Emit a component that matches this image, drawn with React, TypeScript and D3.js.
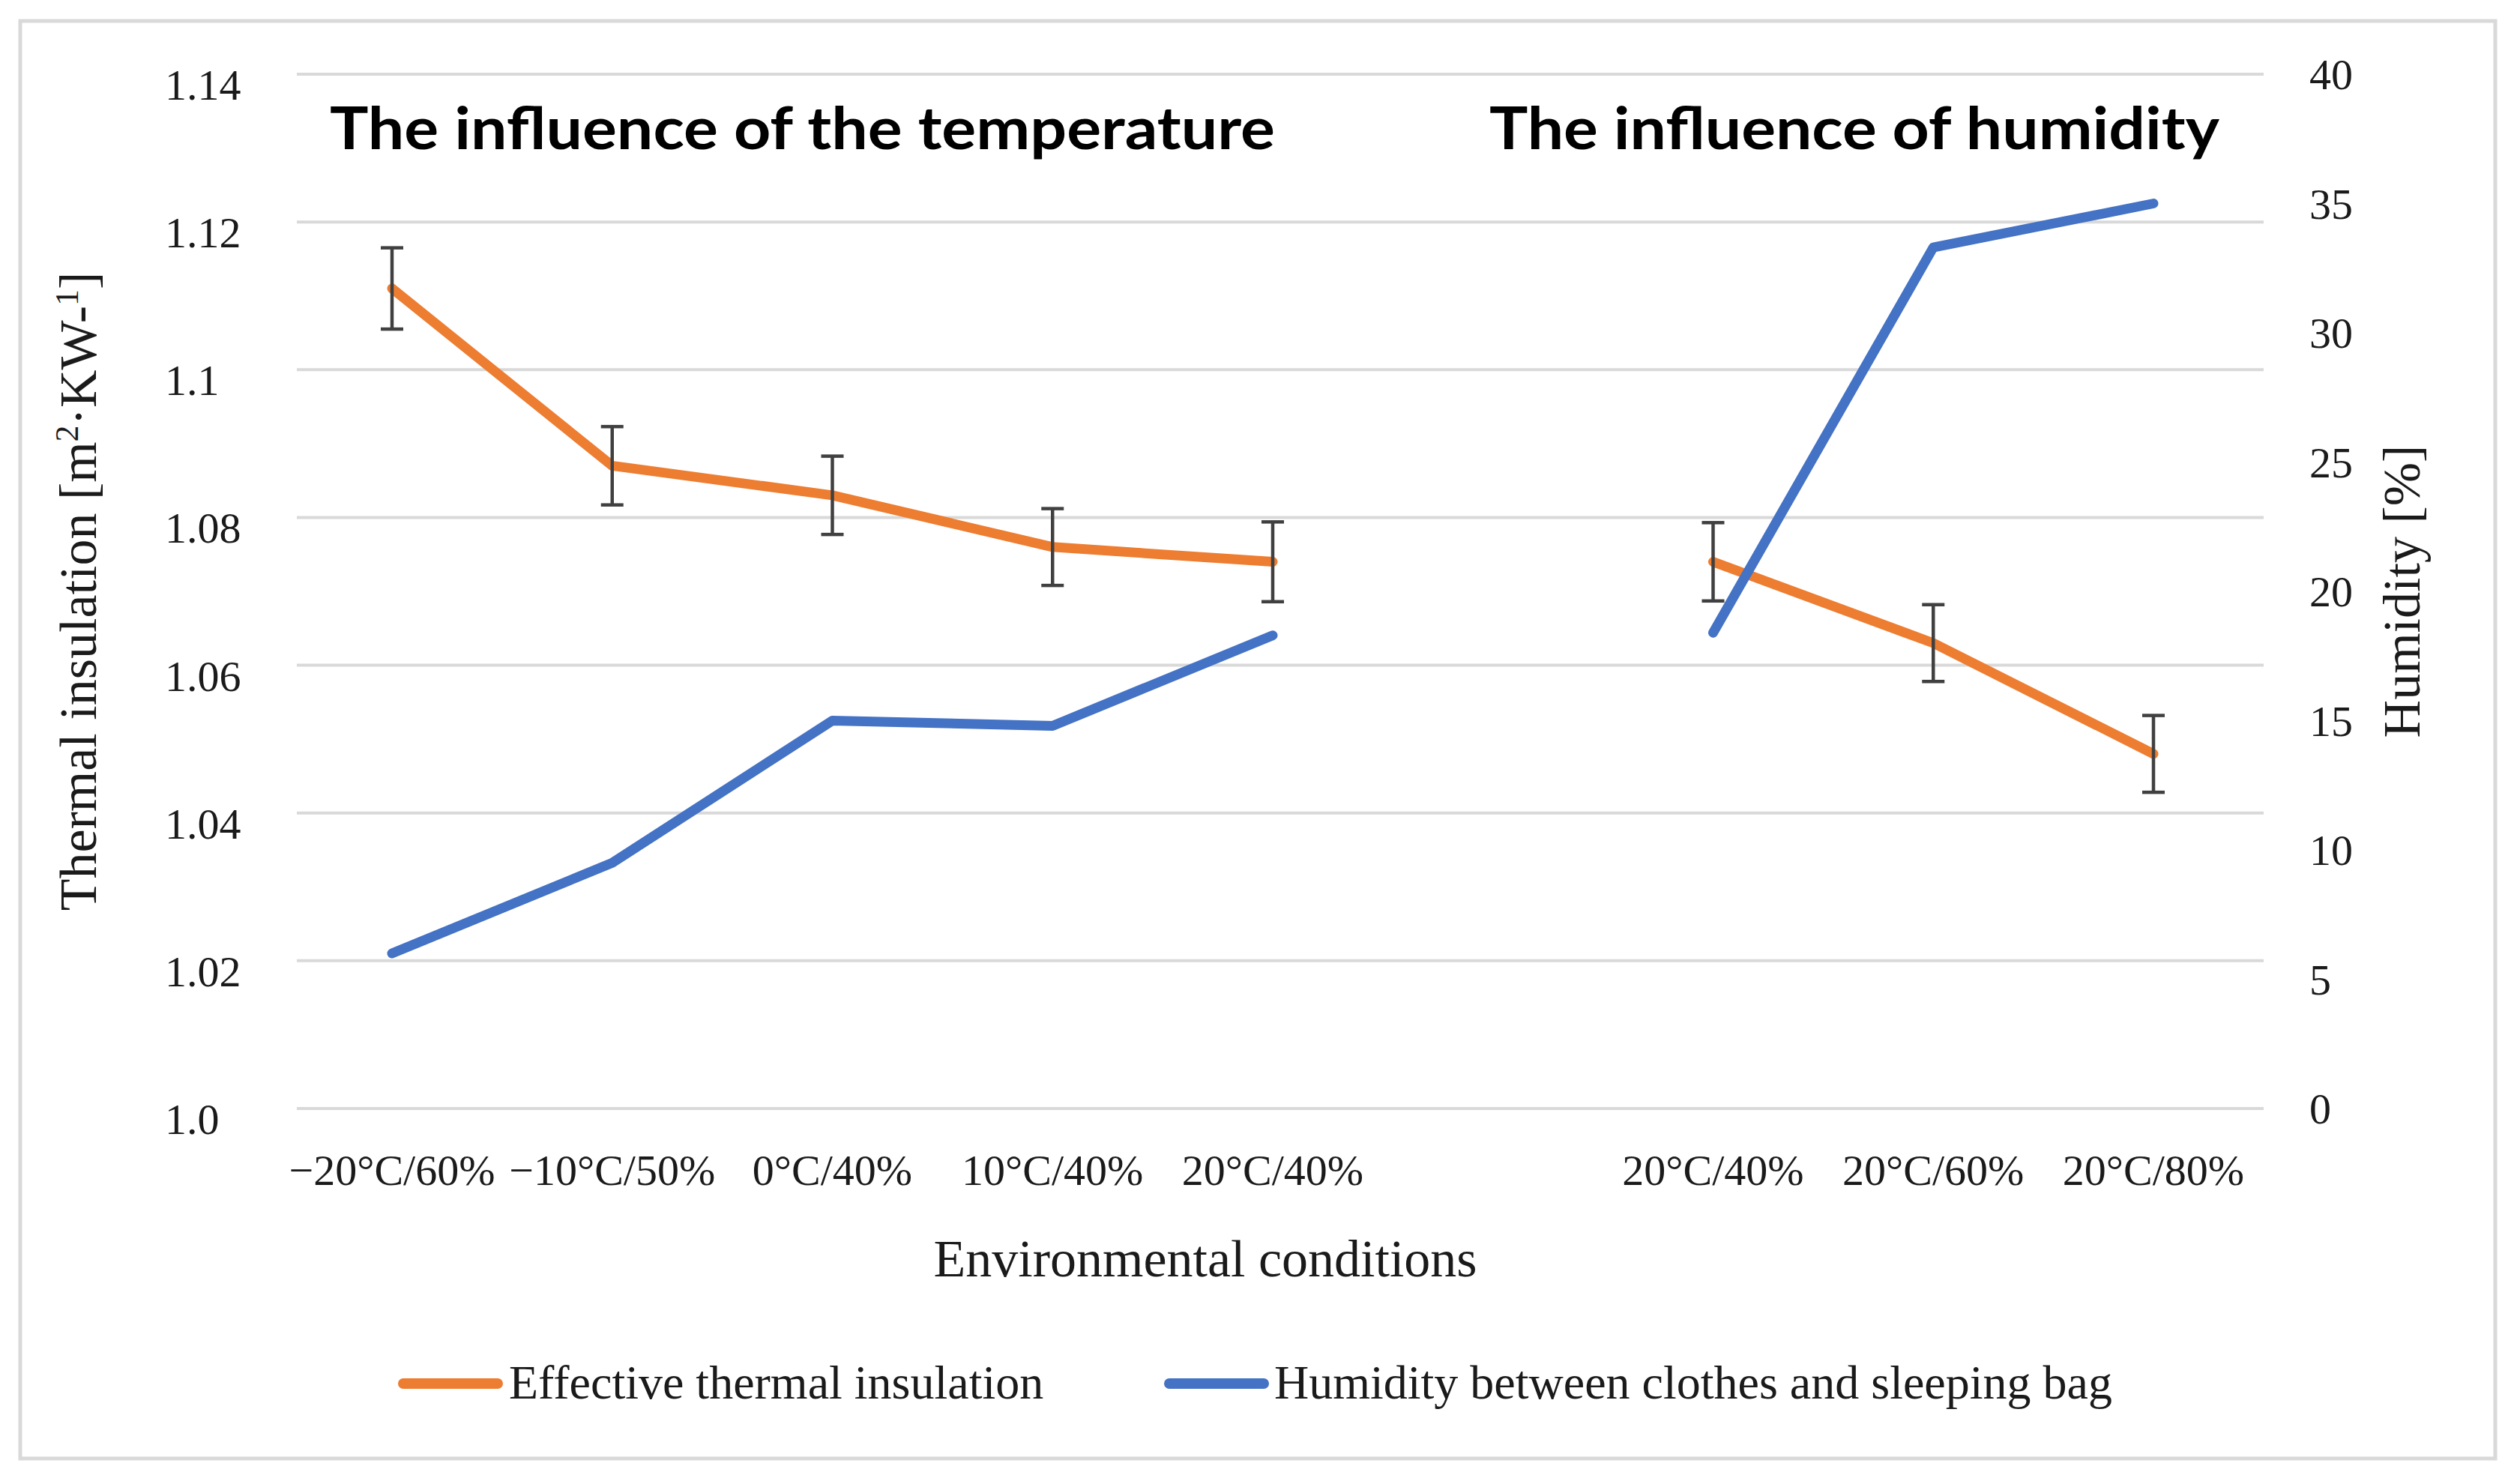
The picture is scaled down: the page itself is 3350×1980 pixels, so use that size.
import React, { useEffect, useRef } from 'react';
import * as d3 from 'd3';

// categories (index 5 is the empty slot between the two groups)
const categories = ['−20°C/60%', '−10°C/50%', '0°C/40%', '10°C/40%', '20°C/40%', '', '20°C/40%', '20°C/60%', '20°C/80%'];
const insulation = [1.111, 1.087, 1.083, 1.076, 1.074, null, 1.074, 1.063, 1.048];
const insulationErr = [0.0055, 0.0053, 0.0053, 0.0052, 0.0054, null, 0.0053, 0.0052, 0.0052];
const humidity = [6.0, 9.5, 15.0, 14.8, 18.3, null, 18.4, 33.3, 35.0];

const leftTicks = [1.0, 1.02, 1.04, 1.06, 1.08, 1.1, 1.12, 1.14];
const leftTickLabels = ['1.0', '1.02', '1.04', '1.06', '1.08', '1.1', '1.12', '1.14'];
const rightTicks = [0, 5, 10, 15, 20, 25, 30, 35, 40];

const groupTitles = ['The influence of the temperature', 'The influence of humidity'];
const seriesNames = ['Effective thermal insulation', 'Humidity between clothes and sleeping bag'];
const xTitle = 'Environmental conditions';
const rightTitle = 'Humidity [%]';

const ORANGE = '#ED7D31';
const BLUE = '#4472C4';
const SERIF = '"Liberation Serif", "Times New Roman", serif';

const App = () => {
  const ref = useRef(null);

  useEffect(() => {
    if (!ref.current) return;
    const svg = d3.select(ref.current);
    svg.selectAll('*').remove();

    const gridLeft = 396, gridRight = 3020;
    const idx = categories.map((_, i) => i);
    const x = d3.scalePoint<number>().domain(idx).range([523, 2873]);
    const yL = d3.scaleLinear().domain([1.0, 1.14]).range([1479, 99]);
    const yR = d3.scaleLinear().domain([0, 40]).range([1479, 99]);

    svg.append('rect')
      .attr('width', 3350).attr('height', 1980).attr('fill', '#fff');

    // outer chart border
    svg.append('rect')
      .attr('x', 27).attr('y', 28).attr('width', 3302).attr('height', 1918)
      .attr('fill', 'none').attr('stroke', '#d9d9d9').attr('stroke-width', 5);

    // gridlines
    svg.append('g').selectAll('line')
      .data(leftTicks).enter().append('line')
      .attr('x1', gridLeft).attr('x2', gridRight)
      .attr('y1', d => yL(d)).attr('y2', d => yL(d))
      .attr('stroke', '#d9d9d9').attr('stroke-width', 4);

    // left tick labels
    svg.append('g').selectAll('text')
      .data(leftTicks).enter().append('text')
      .attr('x', 220).attr('y', d => yL(d) + 34)
      .attr('font-family', SERIF).attr('font-size', 58).attr('fill', '#1a1a1a')
      .text((d, i) => leftTickLabels[i]);

    // right tick labels
    svg.append('g').selectAll('text')
      .data(rightTicks).enter().append('text')
      .attr('x', 3081).attr('y', d => yR(d) + 20)
      .attr('font-family', SERIF).attr('font-size', 58).attr('fill', '#1a1a1a')
      .text(d => d);

    // category labels
    svg.append('g').selectAll('text')
      .data(idx.filter(i => categories[i] !== '')).enter().append('text')
      .attr('x', d => x(d)).attr('y', 1581)
      .attr('text-anchor', 'middle')
      .attr('font-family', SERIF).attr('font-size', 58).attr('fill', '#1a1a1a')
      .text(d => categories[d]);

    // axis titles
    svg.append('text')
      .attr('x', 1608).attr('y', 1703).attr('text-anchor', 'middle')
      .attr('font-family', SERIF).attr('font-size', 70).attr('fill', '#1a1a1a')
      .text(xTitle);

    const lt = svg.append('text')
      .attr('transform', 'translate(128,789) rotate(-90)')
      .attr('text-anchor', 'middle')
      .attr('font-family', SERIF).attr('font-size', 70).attr('fill', '#1a1a1a');
    lt.append('tspan').text('Thermal insulation [m');
    lt.append('tspan').attr('dy', -24).attr('font-size', 44).text('2');
    lt.append('tspan').attr('dy', 24).text('·KW-');
    lt.append('tspan').attr('dy', -24).attr('font-size', 44).text('1');
    lt.append('tspan').attr('dy', 24).text(']');

    svg.append('text')
      .attr('transform', 'translate(3228,789) rotate(-90)')
      .attr('text-anchor', 'middle')
      .attr('font-family', SERIF).attr('font-size', 70).attr('fill', '#1a1a1a')
      .text(rightTitle);

    // group titles
    const titlePos = [{ x: 440, w: 1261 }, { x: 1987, w: 974 }];
    svg.append('g').selectAll('text')
      .data(groupTitles).enter().append('text')
      .attr('x', (d, i) => titlePos[i].x).attr('y', 199)
      .attr('textLength', (d, i) => titlePos[i].w)
      .attr('lengthAdjust', 'spacingAndGlyphs')
      .attr('font-family', 'Lato, "Open Sans", sans-serif')
      .attr('font-weight', 700).attr('font-size', 78).attr('fill', '#000')
      .text(d => d);

    // effective thermal insulation line
    const lineL = d3.line<number>()
      .defined(i => insulation[i] != null)
      .x(i => x(i) as number)
      .y(i => yL(insulation[i] as number));
    svg.append('path')
      .attr('d', lineL(idx))
      .attr('fill', 'none').attr('stroke', ORANGE).attr('stroke-width', 13)
      .attr('stroke-linecap', 'round').attr('stroke-linejoin', 'round');

    // error bars
    const errIdx = idx.filter(i => insulation[i] != null);
    const eb = svg.append('g').attr('stroke', '#404040').attr('stroke-width', 4.5);
    errIdx.forEach(i => {
      const cx = x(i) as number;
      const top = yL((insulation[i] as number) + (insulationErr[i] as number));
      const bot = yL((insulation[i] as number) - (insulationErr[i] as number));
      eb.append('line').attr('x1', cx).attr('x2', cx).attr('y1', top).attr('y2', bot);
      eb.append('line').attr('x1', cx - 15).attr('x2', cx + 15).attr('y1', top).attr('y2', top);
      eb.append('line').attr('x1', cx - 15).attr('x2', cx + 15).attr('y1', bot).attr('y2', bot);
    });

    // humidity line (secondary axis)
    const lineR = d3.line<number>()
      .defined(i => humidity[i] != null)
      .x(i => x(i) as number)
      .y(i => yR(humidity[i] as number));
    svg.append('path')
      .attr('d', lineR(idx))
      .attr('fill', 'none').attr('stroke', BLUE).attr('stroke-width', 13)
      .attr('stroke-linecap', 'round').attr('stroke-linejoin', 'round');

    // legend
    const legend = [
      { x1: 538, x2: 664, tx: 679, color: ORANGE },
      { x1: 1560, x2: 1686, tx: 1700, color: BLUE },
    ];
    const lg = svg.append('g');
    legend.forEach((l, i) => {
      lg.append('line')
        .attr('x1', l.x1).attr('x2', l.x2).attr('y1', 1846).attr('y2', 1846)
        .attr('stroke', l.color).attr('stroke-width', 14).attr('stroke-linecap', 'round');
      lg.append('text')
        .attr('x', l.tx).attr('y', 1866)
        .attr('font-family', SERIF).attr('font-size', 64).attr('fill', '#1a1a1a')
        .text(seriesNames[i]);
    });
  }, []);

  return (
    <svg
      ref={ref}
      width={3350}
      height={1980}
      style={{ position: 'absolute', left: 0, top: 0, display: 'block' }}
    />
  );
};

export default App;
